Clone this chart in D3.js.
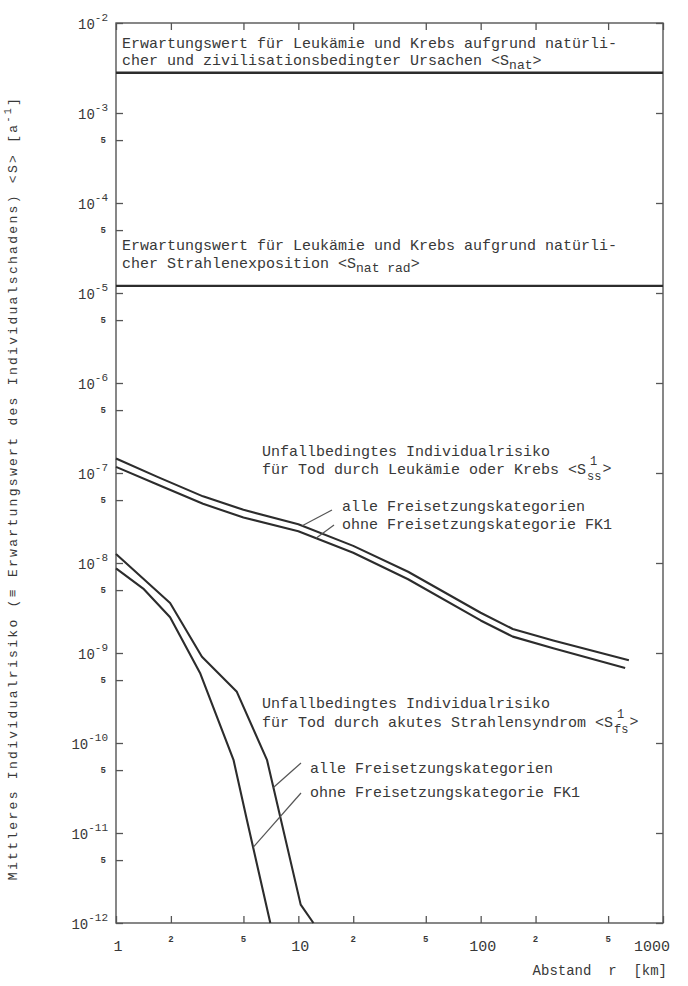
<!DOCTYPE html>
<html>
<head>
<meta charset="utf-8">
<script src="https://cdn.jsdelivr.net/npm/d3@7"></script>
<style>
  body { margin: 0; background: #ffffff; }
  text { font-family: "Liberation Mono", "DejaVu Sans Mono", monospace; fill: #383838; }
</style>
</head>
<body>
<svg id="chart" width="688" height="986"></svg>
<script>
// Long-term individual risk vs. distance (log-log)

// Reference levels
const natTotal = 2.8e-3;      // <S_nat>
const natRad = 1.2e-5;        // <S_nat rad>

// Leukaemia / cancer risk <S^1_ss>
const ssDistAlle = [1, 1.7, 3, 5, 10, 20, 40, 100, 150, 250, 650];
const ssRiskAlle = [1.45e-7, 9e-8, 5.5e-8, 3.9e-8, 2.7e-8, 1.55e-8, 8e-9, 2.8e-9, 1.85e-9, 1.38e-9, 8.3e-10];
const ssDistOhne = [1, 1.7, 3, 5, 10, 20, 40, 100, 150, 250, 620];
const ssRiskOhne = [1.17e-7, 7.4e-8, 4.55e-8, 3.2e-8, 2.25e-8, 1.3e-8, 6.6e-9, 2.3e-9, 1.52e-9, 1.13e-9, 6.8e-10];

// Acute radiation syndrome risk <S^1_fs>
const fsDistAlle = [1, 1.98, 2.96, 4.6, 6.73, 10.3, 12.1];
const fsRiskAlle = [1.26e-8, 3.6e-9, 9.1e-10, 3.7e-10, 6.5e-11, 1.6e-12, 1e-12];
const fsDistOhne = [1, 1.41, 1.98, 2.89, 4.41, 5.22, 7.02];
const fsRiskOhne = [8.7e-9, 5.2e-9, 2.5e-9, 6e-10, 6.5e-11, 1.4e-11, 1e-12];

// Axis ticks
const xMajor = [1, 10, 100, 1000];
const xMajorLabels = ["1", "10", "100", "1000"];
const xMinor = [2, 5, 20, 50, 200, 500];
const xMinorLabels = ["2", "5", "2", "5", "2", "5"];
const yExponents = [-2, -3, -4, -5, -6, -7, -8, -9, -10, -11, -12];
const yFives = [5e-4, 5e-5, 5e-6, 5e-7, 5e-8, 5e-9, 5e-10, 5e-11, 5e-12];

const svg = d3.select("#chart");
const padL = 116, padR = 663, padT = 23, padB = 923;
const x = d3.scaleLog().domain([1, 1000]).range([padL, padR]);
const y = d3.scaleLog().domain([1e-12, 1e-2]).range([padB, padT]);

const ink = "#2c2c2c";

// ticks
const decades = yExponents.map(e => Math.pow(10, e));
const g = svg.append("g");
g.append("g").attr("transform", `translate(${padL},0)`)
  .call(d3.axisLeft(y).tickValues(decades.concat(yFives)).tickSize(-7).tickFormat(""));
g.append("g").attr("transform", `translate(${padR},0)`)
  .call(d3.axisRight(y).tickValues(decades).tickSize(-7).tickFormat(""));
g.append("g").attr("transform", `translate(0,${padB})`)
  .call(d3.axisBottom(x).tickValues(xMajor.concat(xMinor)).tickSize(-7).tickFormat(""));
g.append("g").attr("transform", `translate(0,${padT})`)
  .call(d3.axisTop(x).tickValues(xMajor.concat(xMinor)).tickSize(-7).tickFormat(""));
g.selectAll(".domain").remove();
g.selectAll(".tick line").attr("stroke", "#555").attr("stroke-width", 1.3);

// frame
svg.append("rect").attr("x", padL).attr("y", padT)
  .attr("width", padR - padL).attr("height", padB - padT)
  .attr("fill", "none").attr("stroke", "#555").attr("stroke-width", 1.4);

// y decade labels
yExponents.forEach(e => {
  const yy = y(Math.pow(10, e));
  const t = svg.append("text").attr("x", 108).attr("y", yy + 6)
    .attr("text-anchor", "end").attr("font-size", 14);
  t.append("tspan").text("10");
  t.append("tspan").attr("dy", -8).attr("font-size", 11).text(String(e));
});
// y minor "5" labels
yFives.forEach(v => {
  svg.append("text").attr("x", 106).attr("y", y(v) + 3)
    .attr("text-anchor", "end").attr("font-size", 9).attr("font-weight", "bold")
    .text("5");
});

// x labels
xMajor.forEach((v, i) => {
  const last = i === xMajor.length - 1;
  svg.append("text").attr("x", last ? x(v) + 7 : x(v) + 2).attr("y", 951)
    .attr("text-anchor", last ? "end" : "middle").attr("font-size", 15)
    .text(xMajorLabels[i]);
});
xMinor.forEach((v, i) => {
  svg.append("text").attr("x", x(v)).attr("y", 942)
    .attr("text-anchor", "middle").attr("font-size", 9).attr("font-weight", "bold")
    .text(xMinorLabels[i]);
});

// axis titles
svg.append("text").attr("x", 667).attr("y", 975).attr("text-anchor", "end")
  .attr("font-size", 14).style("white-space", "pre").text("Abstand  r  [km]");

const yt = svg.append("text").attr("transform", "translate(17,488) rotate(-90)")
  .attr("text-anchor", "middle").attr("font-size", 13).attr("letter-spacing", 2.3);
yt.append("tspan").text("Mittleres Individualrisiko (\u2261 Erwartungswert des Individualschadens) <S> [a");
yt.append("tspan").attr("dy", -6).attr("font-size", 10).text("-1");
yt.append("tspan").attr("dy", 6).text("]");

// reference lines
[natTotal, natRad].forEach(v => {
  svg.append("line").attr("x1", x(1)).attr("x2", x(1000))
    .attr("y1", y(v)).attr("y2", y(v))
    .attr("stroke", ink).attr("stroke-width", 2.4);
});

// text helpers
const FS = 15;
function label(px, py, str) {
  return svg.append("text").attr("x", px).attr("y", py).attr("font-size", FS).text(str);
}
function labelSub(px, py, str, sub) {
  const t = label(px, py, str);
  t.append("tspan").attr("dy", 4).attr("font-size", 13).text(sub);
  t.append("tspan").attr("dy", -4).text(">");
  return t;
}
// "<S" with a stacked superscript "1" and subscript, then ">"
function labelStacked(px, py, str, sub) {
  const t = label(px, py, str + "<S");
  const w = t.node().getComputedTextLength();
  const sx = px + w + 1;
  svg.append("text").attr("x", sx + 3).attr("y", py - 9).attr("font-size", 12).text("1");
  const s = svg.append("text").attr("x", sx).attr("y", py + 6).attr("font-size", 12).text(sub);
  const sw = s.node().getComputedTextLength();
  label(sx + sw + 1, py - 1, ">");
}

label(122, 48, "Erwartungswert für Leukämie und Krebs aufgrund natürli-");
labelSub(122, 65, "cher und zivilisationsbedingter Ursachen <S", "nat");

label(122, 250, "Erwartungswert für Leukämie und Krebs aufgrund natürli-");
labelSub(122, 268, "cher Strahlenexposition <S", "nat rad");

label(262, 456, "Unfallbedingtes Individualrisiko");
labelStacked(262, 474, "für Tod durch Leukämie oder Krebs ", "ss");
label(342, 511, "alle Freisetzungskategorien");
label(342, 529, "ohne Freisetzungskategorie FK1");

label(262, 708, "Unfallbedingtes Individualrisiko");
labelStacked(262, 727, "für Tod durch akutes Strahlensyndrom ", "fs");
label(310, 773, "alle Freisetzungskategorien");
label(310, 797, "ohne Freisetzungskategorie FK1");

// curves
const line = d3.line().x(d => x(d[0])).y(d => y(d[1]));
const series = [
  [ssDistAlle, ssRiskAlle], [ssDistOhne, ssRiskOhne],
  [fsDistAlle, fsRiskAlle], [fsDistOhne, fsRiskOhne]
];
series.forEach(([ds, rs]) => {
  svg.append("path").datum(ds.map((d, i) => [d, rs[i]]))
    .attr("d", line).attr("fill", "none")
    .attr("stroke", ink).attr("stroke-width", 2.1).attr("stroke-linejoin", "round");
});

// leader lines: from label to a point on the curve (interpolated in log space)
function onCurve(ds, rs, r) {
  const lr = Math.log10(r);
  for (let i = 0; i < ds.length - 1; i++) {
    const a = Math.log10(ds[i]), b = Math.log10(ds[i + 1]);
    if (lr >= a && lr <= b) {
      const f = (lr - a) / (b - a);
      return Math.pow(10, Math.log10(rs[i]) + f * (Math.log10(rs[i + 1]) - Math.log10(rs[i])));
    }
  }
  return rs[rs.length - 1];
}
const leaders = [
  {sx: 332, sy: 510, ds: ssDistAlle, rs: ssRiskAlle, r: 10.5},
  {sx: 334, sy: 525, ds: ssDistOhne, rs: ssRiskOhne, r: 12.5},
  {sx: 301, sy: 763, ds: fsDistAlle, rs: fsRiskAlle, r: 7.3},
  {sx: 301, sy: 793, ds: fsDistOhne, rs: fsRiskOhne, r: 5.65}
];
leaders.forEach(l => {
  svg.append("line").attr("x1", l.sx).attr("y1", l.sy)
    .attr("x2", x(l.r)).attr("y2", y(onCurve(l.ds, l.rs, l.r)))
    .attr("stroke", "#555").attr("stroke-width", 1.2);
});
</script>
</body>
</html>
